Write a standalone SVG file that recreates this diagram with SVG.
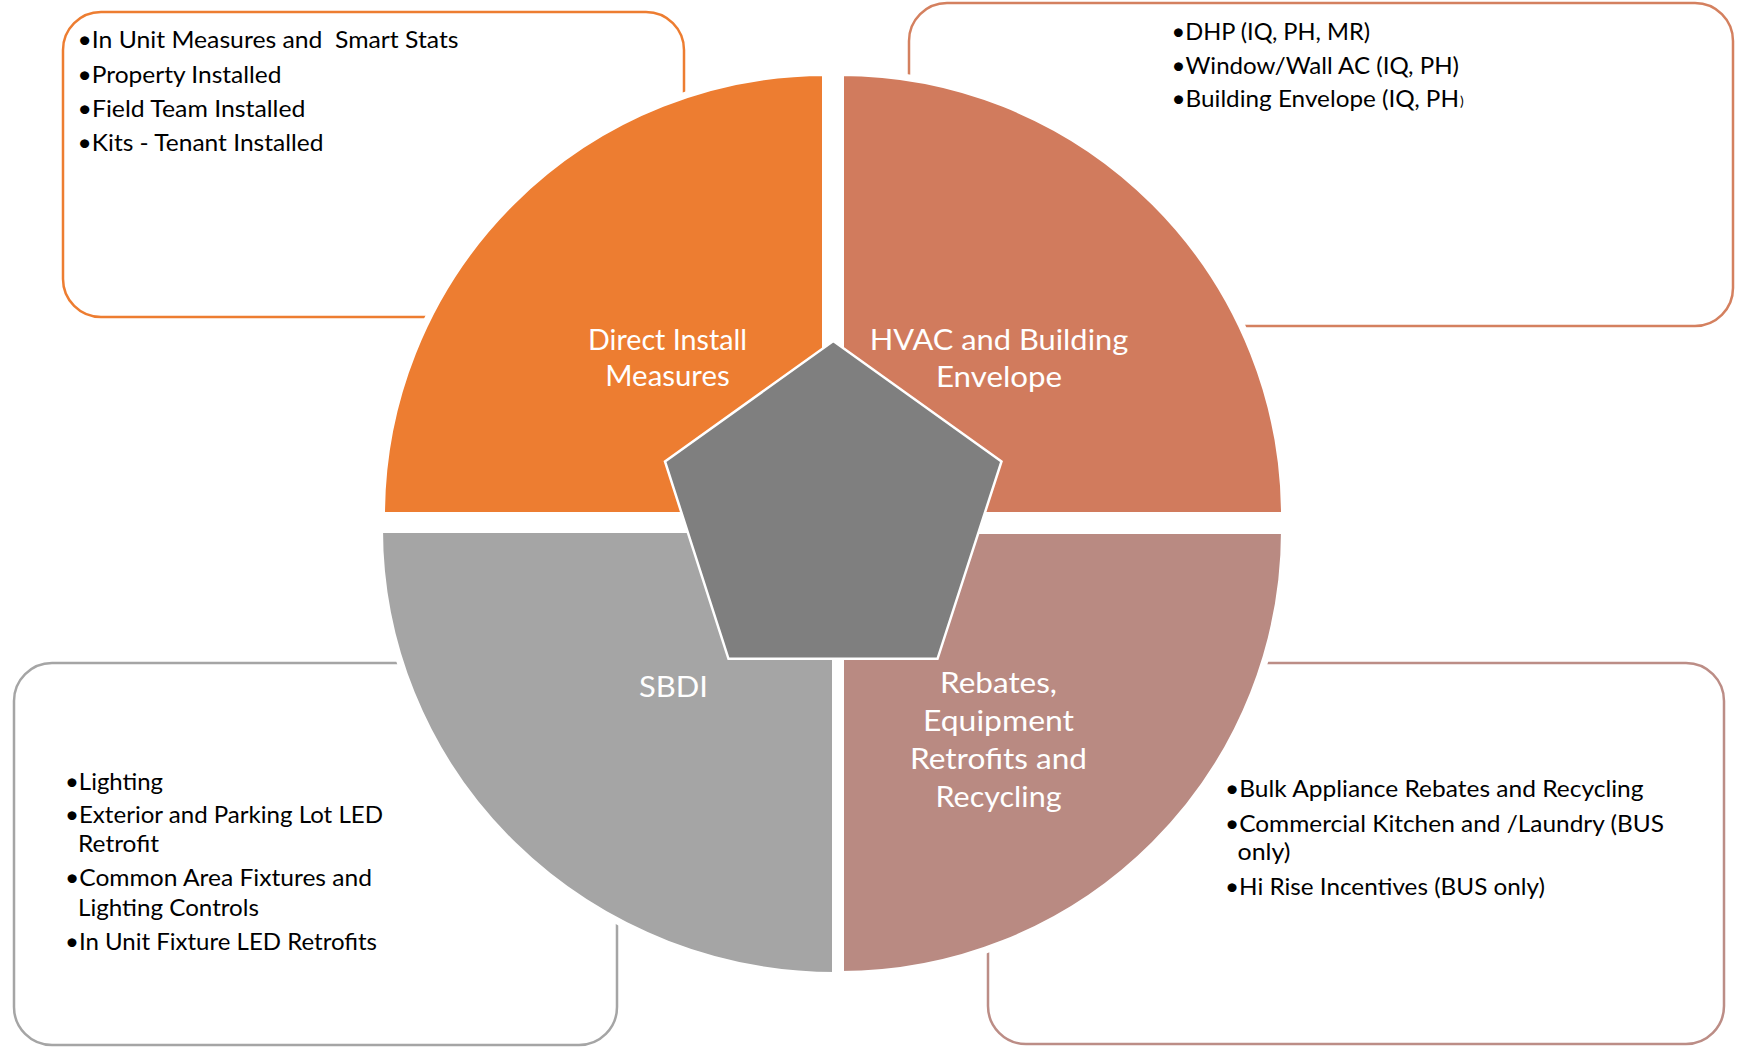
<svg xmlns="http://www.w3.org/2000/svg" width="1741" height="1052" viewBox="0 0 1741 1052">
<defs>
<style>
.box{fill:#FFFFFF;stroke-width:2.5}
.quad{stroke:#FFFFFF;stroke-width:7}
.body{font-family:Lato,"Open Sans","Liberation Sans",sans-serif;font-size:23.5px;fill:#000000;white-space:pre}
.lbl{font-family:Lato,"Open Sans","Liberation Sans",sans-serif;font-size:28.5px;fill:#FFFFFF;text-anchor:middle}
</style>
</defs>
<rect width="1741" height="1052" fill="#FFFFFF"/>

<g id="box-direct-install">
<rect class="box" x="63" y="12" width="621" height="305" rx="38" ry="38" stroke="#ED7D31"/>
<text class="body" x="77.5" y="48.3" textLength="381" lengthAdjust="spacingAndGlyphs">•In Unit Measures and  Smart Stats</text>
<text class="body" x="77.5" y="82.7" textLength="204" lengthAdjust="spacingAndGlyphs">•Property Installed</text>
<text class="body" x="77.5" y="116.7" textLength="228" lengthAdjust="spacingAndGlyphs">•Field Team Installed</text>
<text class="body" x="77.5" y="150.7" textLength="246" lengthAdjust="spacingAndGlyphs">•Kits - Tenant Installed</text>
</g>

<g id="box-hvac">
<rect class="box" x="909" y="3" width="824" height="323" rx="38" ry="38" stroke="#D4805F"/>
<text class="body" x="1171.5" y="40" textLength="198.5" lengthAdjust="spacingAndGlyphs">•DHP (IQ, PH, MR)</text>
<text class="body" x="1171.5" y="74" textLength="287.5" lengthAdjust="spacingAndGlyphs">•Window/Wall AC (IQ, PH)</text>
<text class="body" x="1171.5" y="107.3" textLength="287.5" lengthAdjust="spacingAndGlyphs">•Building Envelope (IQ, PH</text>
<text class="body" x="1460" y="106" style="font-size:14px">)</text>
</g>

<g id="box-sbdi">
<rect class="box" x="14" y="663" width="603" height="382" rx="38" ry="38" stroke="#A5A5A5"/>
<text class="body" x="65" y="789.5" textLength="98" lengthAdjust="spacingAndGlyphs">•Lighting</text>
<text class="body" x="65" y="823.3" textLength="318" lengthAdjust="spacingAndGlyphs">•Exterior and Parking Lot LED</text>
<text class="body" x="78" y="852" textLength="81" lengthAdjust="spacingAndGlyphs">Retrofit</text>
<text class="body" x="65" y="886" textLength="307" lengthAdjust="spacingAndGlyphs">•Common Area Fixtures and</text>
<text class="body" x="78" y="915.7" textLength="181" lengthAdjust="spacingAndGlyphs">Lighting Controls</text>
<text class="body" x="65" y="950" textLength="312" lengthAdjust="spacingAndGlyphs">•In Unit Fixture LED Retrofits</text>
</g>

<g id="box-rebates">
<rect class="box" x="988" y="663" width="736" height="381" rx="38" ry="38" stroke="#BC8D86"/>
<text class="body" x="1225" y="797.3" textLength="418.5" lengthAdjust="spacingAndGlyphs">•Bulk Appliance Rebates and Recycling</text>
<text class="body" x="1225" y="831.7" textLength="439" lengthAdjust="spacingAndGlyphs">•Commercial Kitchen and /Laundry (BUS</text>
<text class="body" x="1237.5" y="859.5" textLength="53" lengthAdjust="spacingAndGlyphs">only)</text>
<text class="body" x="1225" y="895" textLength="320" lengthAdjust="spacingAndGlyphs">•Hi Rise Incentives (BUS only)</text>
</g>

<g id="connectors"></g>

<g id="quad-direct-install">
<path class="quad" fill="#ED7D31" d="M825.5,515.5 L381.5,515.5 A444,443 0 0 1 825.5,72.5 Z"/>
<text class="lbl" x="667.5" y="349.5" textLength="159" lengthAdjust="spacingAndGlyphs">Direct Install</text>
<text class="lbl" x="667.5" y="386" textLength="124.5" lengthAdjust="spacingAndGlyphs">Measures</text>
</g>

<g id="quad-hvac">
<path class="quad" fill="#D17B5D" d="M840.5,515.5 L840.5,72.5 A444,443 0 0 1 1284.5,515.5 Z"/>
<text class="lbl" x="999" y="349.5" textLength="258.5" lengthAdjust="spacingAndGlyphs">HVAC and Building</text>
<text class="lbl" x="999" y="386.5" textLength="126" lengthAdjust="spacingAndGlyphs">Envelope</text>
</g>

<g id="quad-sbdi">
<path class="quad" fill="#A5A5A5" d="M835.5,529.5 L835.5,975.5 A456,446 0 0 1 379.5,529.5 Z"/>
<text class="lbl" x="673.5" y="697" textLength="69" lengthAdjust="spacingAndGlyphs">SBDI</text>
</g>

<g id="quad-rebates">
<path class="quad" fill="#B98A82" d="M840.5,530.5 L1284.5,530.5 A444,444 0 0 1 840.5,974.5 Z"/>
<text class="lbl" x="998.5" y="693" textLength="117" lengthAdjust="spacingAndGlyphs">Rebates,</text>
<text class="lbl" x="998.5" y="731" textLength="151" lengthAdjust="spacingAndGlyphs">Equipment</text>
<text class="lbl" x="998.5" y="769" textLength="177" lengthAdjust="spacingAndGlyphs">Retrofits and</text>
<text class="lbl" x="998.5" y="807" textLength="126" lengthAdjust="spacingAndGlyphs">Recycling</text>
</g>

<g id="center-pentagon">
<polygon points="833.3,341 1001.5,461.5 937.5,658.8 728.5,658.8 665,461.5" fill="#7F7F7F" stroke="#FFFFFF" stroke-width="2.5" stroke-linejoin="miter"/>
</g>
</svg>
